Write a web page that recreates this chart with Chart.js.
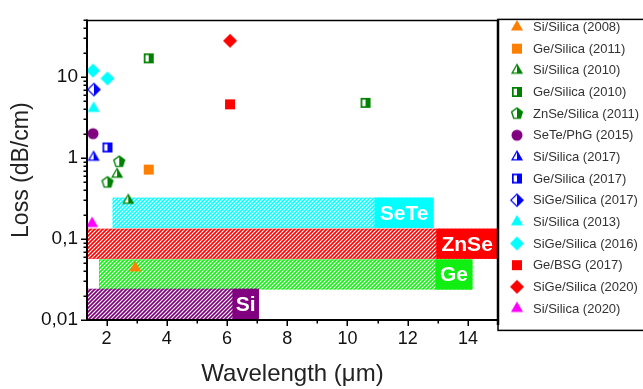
<!DOCTYPE html>
<html><head><meta charset="utf-8">
<script src="https://cdn.jsdelivr.net/npm/chart.js@4.4.0/dist/chart.umd.min.js"></script>
<style>html,body{margin:0;padding:0;background:#fff;}canvas{display:block;}</style>
</head><body>
<canvas id="c" width="643" height="389"></canvas>
<script>
// ---- data ----
const seriesLabels = ['Si/Silica (2008)','Ge/Silica (2011)','Si/Silica (2010)','Ge/Silica (2010)','ZnSe/Silica (2011)','SeTe/PhG (2015)','Si/Silica (2017)','Ge/Silica (2017)','SiGe/Silica (2017)','Si/Silica (2013)','SiGe/Silica (2016)','Ge/BSG (2017)','SiGe/Silica (2020)','Si/Silica (2020)'];
const siSilica2008 = [[2.95, 0.044]];
const geSilica2011 = [[3.4, 0.72]];
const siSilica2010 = [[2.35, 0.63], [2.72, 0.30]];
const geSilica2010 = [[3.4, 17], [10.6, 4.8]];
const znseSilica2011 = [[2.42, 0.9], [2.03, 0.5]];
const setePhG2015 = [[1.55, 2.0]];
const siSilica2017 = [[1.57, 1.02]];
const geSilica2017 = [[2.03, 1.35]];
const sigeSilica2017 = [[1.58, 7.0]];
const siSilica2013 = [[1.57, 4.1]];
const sigeSilica2016 = [[1.55, 12], [2.03, 9.6]];
const geBSG2017 = [[6.1, 4.6]];
const sigeSilica2020 = [[6.1, 28]];
const siSilica2020 = [[1.52, 0.155]];
const seriesData = [siSilica2008, geSilica2011, siSilica2010, geSilica2010, znseSilica2011, setePhG2015, siSilica2017, geSilica2017, sigeSilica2017, siSilica2013, sigeSilica2016, geBSG2017, sigeSilica2020, siSilica2020];

const bandNames = ['SeTe', 'ZnSe', 'Ge', 'Si'];
const bandXStart = [2.2, 1.35, 1.75, 1.35];
const bandXEnd = [12.86, 15, 14.15, 7.06];
const bandLabelXStart = [10.9, 12.95, 12.92, 6.18];
const bandYLow = [0.137, 0.057, 0.0238, 0.01];
const bandYHigh = [0.324, 0.134, 0.056, 0.0243];

const xTickValues = [2, 4, 6, 8, 10, 12, 14];
const yTickValues = [0.01, 0.1, 1, 10];
const yTickLabels = ['0,01', '0,1', '1', '10'];

// ---- styles ----
const seriesColors = ['#FF8000','#FF8000','#008000','#008000','#008000','#800080','#0000FF','#0000FF','#0000FF','#00FFFF','#00FFFF','#FF0000','#FF0000','#FF00FF'];
const seriesShapes = ['tri','sq','tri','sq','pent','circ','tri','sq','dia','tri','dia','sq','dia','tri'];
const seriesHalf = [false,false,true,true,true,false,true,true,true,false,false,false,false,false];
const bandColors = ['#00FFFF', '#FF0000', '#11EE11', '#800080'];
const FONT = "Arial, 'Liberation Sans', sans-serif";

function makeMarker(shape, color, half) {
  const s = 18, c = document.createElement('canvas');
  c.width = s; c.height = s;
  const g = c.getContext('2d'), cx = s / 2, cy = s / 2;
  const size = {tri: 7, sq: 5, circ: 5.5, dia: 7, pent: 6.5}[shape];
  function path(r) {
    g.beginPath();
    if (shape === 'tri') { g.moveTo(cx, cy - r); g.lineTo(cx + r * 0.866, cy + r * 0.5); g.lineTo(cx - r * 0.866, cy + r * 0.5); g.closePath(); }
    else if (shape === 'sq') { g.rect(cx - r, cy - r, 2 * r, 2 * r); }
    else if (shape === 'circ') { g.arc(cx, cy, r, 0, Math.PI * 2); }
    else if (shape === 'dia') { g.moveTo(cx, cy - r); g.lineTo(cx + r, cy); g.lineTo(cx, cy + r); g.lineTo(cx - r, cy); g.closePath(); }
    else if (shape === 'pent') { for (let i = 0; i < 5; i++) { const a = -Math.PI / 2 + i * 2 * Math.PI / 5; const px = cx + r * Math.cos(a), py = cy + r * Math.sin(a); if (i) g.lineTo(px, py); else g.moveTo(px, py); } g.closePath(); }
  }
  path(size); g.fillStyle = color; g.fill();
  if (half) {
    g.save(); g.beginPath(); g.rect(0, 0, cx, s); g.clip();
    path(size - (shape === 'tri' ? 2.6 : 1.7)); g.fillStyle = '#fff'; g.fill();
    g.restore();
  }
  return c;
}
const markers = seriesShapes.map((sh, i) => makeMarker(sh, seriesColors[i], seriesHalf[i]));

function makePattern(color) {
  const p = document.createElement('canvas'); p.width = 4; p.height = 4;
  const g = p.getContext('2d');
  g.fillStyle = '#fff'; g.fillRect(0, 0, 4, 4);
  g.strokeStyle = color; g.lineWidth = 1.7;
  g.beginPath();
  g.moveTo(-1, 5); g.lineTo(5, -1);
  g.moveTo(-3, 3); g.lineTo(3, -3);
  g.moveTo(1, 7); g.lineTo(7, 1);
  g.stroke();
  return g.createPattern(p, 'repeat');
}

const bandPlugin = {
  id: 'bands',
  beforeDatasetsDraw(chart) {
    const {ctx, scales: {x, y}} = chart;
    ctx.save();
    bandNames.forEach((name, i) => {
      const x1 = x.getPixelForValue(bandXStart[i]), x2 = x.getPixelForValue(bandXEnd[i]);
      const y1 = y.getPixelForValue(bandYHigh[i]), y2 = y.getPixelForValue(bandYLow[i]);
      ctx.fillStyle = makePattern(bandColors[i]);
      ctx.fillRect(x1, y1, x2 - x1, y2 - y1);
      ctx.globalAlpha = 0.45; ctx.strokeStyle = bandColors[i]; ctx.lineWidth = 1;
      ctx.strokeRect(x1 + 0.5, y1 + 0.5, x2 - x1 - 1, y2 - y1 - 1);
      ctx.globalAlpha = 1;
      const lx = x.getPixelForValue(bandLabelXStart[i]);
      ctx.fillStyle = bandColors[i];
      ctx.fillRect(lx, y1, x2 - lx, y2 - y1);
      ctx.fillStyle = '#fff';
      ctx.font = 'bold 21px ' + FONT;
      ctx.textBaseline = 'middle'; ctx.textAlign = 'center';
      ctx.fillText(name, (lx + x2) / 2, (y1 + y2) / 2 + 1);
    });
    ctx.restore();
  },
  afterDraw(chart) {
    const {ctx, chartArea: a, scales: {x, y}} = chart;
    ctx.save();
    ctx.strokeStyle = '#000';
    // ticks
    ctx.lineWidth = 1.5;
    ctx.beginPath();
    for (let d = -2; d <= 1; d++) {
      for (let k = 1; k <= 9; k++) {
        const v = k * Math.pow(10, d);
        if (v > 50.0001) break;
        const py = Math.round(y.getPixelForValue(v)) + 0.25;
        ctx.moveTo(a.left, py); ctx.lineTo(a.left - (k === 1 ? 6 : 3.5), py);
      }
    }
    for (let v = 2; v <= 15; v++) {
      const px = Math.round(x.getPixelForValue(v)) + 0.25;
      ctx.moveTo(px, a.bottom); ctx.lineTo(px, a.bottom + (v % 2 === 0 ? 6 : 3.5));
    }
    ctx.stroke();
    // frame
    ctx.lineWidth = 1.5;
    ctx.beginPath(); ctx.moveTo(a.left, a.top); ctx.lineTo(a.right, a.top); ctx.stroke();
    ctx.lineWidth = 2.5;
    ctx.beginPath(); ctx.moveTo(a.right, a.top - 1); ctx.lineTo(a.right, a.bottom + 5); ctx.stroke();
    ctx.lineWidth = 2;
    ctx.beginPath(); ctx.moveTo(a.left, a.top - 1); ctx.lineTo(a.left, a.bottom); ctx.lineTo(a.right, a.bottom); ctx.stroke();
    // legend
    ctx.lineWidth = 1.5;
    ctx.strokeRect(a.right, a.top - 1, 160, 311);
    ctx.font = '13px ' + FONT; ctx.fillStyle = '#333'; ctx.textBaseline = 'middle'; ctx.textAlign = 'left';
    chart.data.datasets.forEach((ds, i) => {
      const ly = 27 + i * 21.65;
      const m = ds.pointStyle;
      ctx.drawImage(m, a.right + 19 - m.width / 2, ly - m.height / 2);
      ctx.fillText(ds.label, a.right + 35, ly + 0.5);
    });
    ctx.restore();
  }
};

new Chart(document.getElementById('c'), {
  type: 'scatter',
  data: {
    datasets: seriesData.map((arr, i) => ({
      label: seriesLabels[i],
      data: arr.map(p => ({x: p[0], y: p[1]})),
      pointStyle: markers[i],
      pointRadius: 6,
      backgroundColor: seriesColors[i],
      borderColor: seriesColors[i]
    }))
  },
  options: {
    responsive: false,
    animation: false,
    devicePixelRatio: 1,
    layout: {padding: {top: 13, right: 145, left: 0, bottom: 0}},
    plugins: {legend: {display: false}, tooltip: {enabled: false}},
    scales: {
      x: {
        type: 'linear', min: 1.35, max: 15,
        afterBuildTicks: s => { s.ticks = xTickValues.map(v => ({value: v})); },
        afterFit: s => { s.height = 69; },
        grid: {display: false, drawTicks: false},
        border: {display: false},
        ticks: {autoSkip: false, maxRotation: 0, padding: 8, color: '#111', font: {family: FONT, size: 18}},
        title: {display: true, text: 'Wavelength (\u03bcm)', color: '#222', font: {family: FONT, size: 24}, padding: {top: 0, bottom: 0}}
      },
      y: {
        type: 'logarithmic', min: 0.01, max: 50,
        afterBuildTicks: s => { s.ticks = yTickValues.map(v => ({value: v})); },
        afterFit: s => { s.width = 87; },
        grid: {display: false, drawTicks: false},
        border: {display: false},
        ticks: {autoSkip: false, padding: 9, color: '#111', font: {family: FONT, size: 19},
          callback: (v) => { const i = yTickValues.findIndex(t => Math.abs(t - v) < t * 1e-6); return i >= 0 ? yTickLabels[i] : ''; }},
        title: {display: true, text: 'Loss (dB/cm)', color: '#222', font: {family: FONT, size: 23}, padding: {top: 8, bottom: 0}}
      }
    }
  },
  plugins: [bandPlugin]
});
</script>
</body></html>
